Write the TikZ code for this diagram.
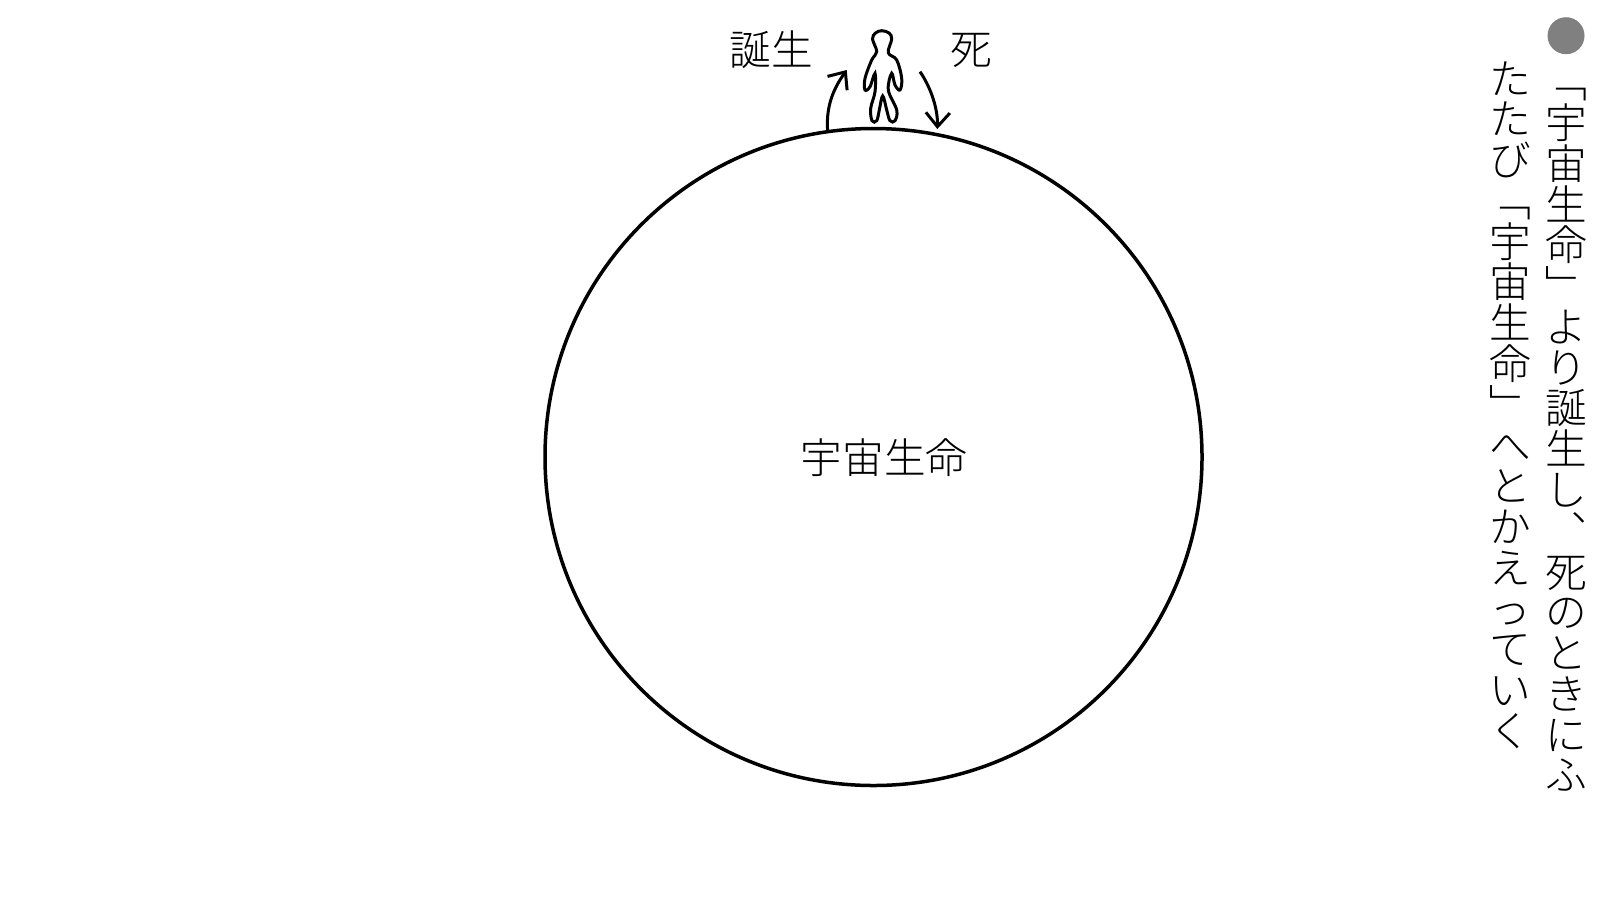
\documentclass[tikz,border=0pt]{standalone}
\usepackage{fontspec}
\newfontfamily\jpfont{Noto Sans CJK JP Light}
\usetikzlibrary{arrows.meta}

\tikzset{
  label/.style={inner sep=0pt, font=\jpfont\fontsize{11.85pt}{11.85pt}\selectfont},
  column/.style={inner sep=0pt, align=center, font=\jpfont\fontsize{11.85pt}{11.6pt}\selectfont},
  sweep/.style={line width=.3mm, -{Straight Barb[length=1.4mm,width=2.4mm]}}
}

\begin{document}
\begin{tikzpicture}
  \useasboundingbox (0, 0) rectangle (16, -9.09);
  \node[circle, draw, line width=.35mm, minimum size=6.57cm, inner sep=0pt] (life) at (8.735, -4.57) {};
  \node[label] (cosmos) at (8.84, -4.58) {宇宙生命};
  \node[label] (birth) at (7.71, -.5) {誕生};
  \node[label] (death) at (9.71, -.5) {死};
  % figure standing on the circle
  \draw[line width=.3mm, fill=white] plot[smooth cycle, tension=.6] coordinates {
    (8.817,-.307) (8.89,-.33) (8.917,-.39) (8.883,-.527) (8.967,-.6) (9.017,-.783) (9.0,-.9)
    (8.95,-.85) (8.917,-.733) (8.883,-.9) (8.967,-1.1) (8.95,-1.207) (8.9,-1.207)
    (8.867,-1.1) (8.827,-.96) (8.793,-1.1) (8.767,-1.207) (8.72,-1.207) (8.707,-1.083)
    (8.75,-.917) (8.75,-.733) (8.7,-.867) (8.65,-.9) (8.65,-.783) (8.717,-.6)
    (8.767,-.517) (8.725,-.39) (8.755,-.33)};
  \coordinate (risetip) at (8.467, -.7);
  \coordinate (falltail) at (9.2, -.717);
  \coordinate (falltip) at (9.373, -1.29);
  \draw[sweep] (life.98.5) .. controls (8.26, -1.05) and (8.34, -.88) .. (risetip);
  \draw[sweep] (falltail) .. controls (9.3, -.86) and (9.38, -1.08) .. (falltip);
  \node[circle, fill=gray, minimum size=.37cm, inner sep=0pt] (bullet) at (15.66, -.357) {};
  \node[column] (lineone) at (15.66, -4.4) {﹁\\宇\\宙\\生\\命\\﹂\\よ\\り\\誕\\生\\し\\︑\\死\\の\\と\\き\\に\\ふ};
  \node[column] (linetwo) at (15.1, -4.05) {た\\た\\び\\﹁\\宇\\宙\\生\\命\\﹂\\へ\\と\\か\\え\\っ\\て\\い\\く};
\end{tikzpicture}
\end{document}
